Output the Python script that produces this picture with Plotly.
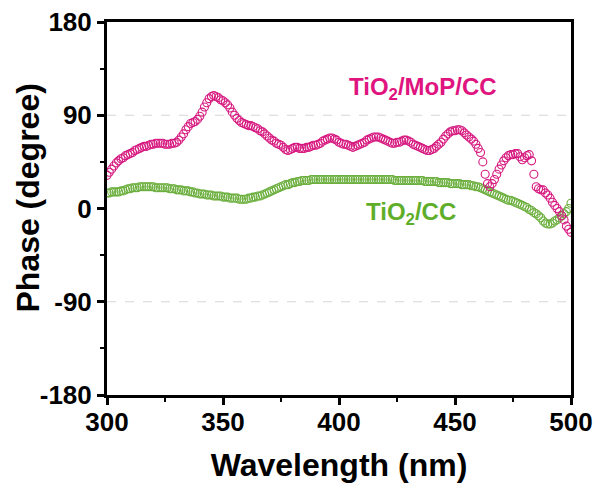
import plotly.graph_objects as go

# Wavelength grid (nm)
wavelength = list(range(300, 501))

# Phase (degree) for TiO2/MoP/CC, one value per nm from 300 to 500
phase_mop = [
    32, 35, 38, 41, 44, 46, 48, 49, 51, 52,          # 300-309
    53, 54, 56, 57, 58, 59, 60, 60, 61, 62,          # 310-319
    62, 63, 63, 63, 63, 62, 62, 62, 63, 63,          # 320-329
    64, 66, 69, 72, 76, 79, 82, 83, 84, 86,          # 330-339
    89, 93, 98, 102, 106, 108, 109, 108, 107, 105,   # 340-349
    104, 102, 100, 97, 93, 90, 87, 85, 83, 82,       # 350-359
    81, 80, 80, 79, 78, 77, 75, 74, 72, 70,          # 360-369
    68, 66, 65, 63, 62, 61, 59, 57, 56, 57,          # 370-379
    58, 59, 59, 58, 58, 58, 59, 59, 60, 61,          # 380-389
    61, 62, 63, 65, 66, 67, 68, 68, 67, 66,          # 390-399
    64, 63, 62, 62, 61, 60, 59, 60, 61, 62,          # 400-409
    63, 64, 66, 67, 68, 69, 69, 69, 68, 67,          # 410-419
    66, 65, 64, 63, 63, 64, 64, 65, 66, 66,          # 420-429
    65, 64, 62, 61, 60, 59, 58, 57, 56, 56,          # 430-439
    57, 58, 60, 62, 64, 67, 70, 72, 74, 75,          # 440-449
    75, 76, 76, 75, 73, 71, 69, 67, 65, 62,          # 450-459
    58, 54, 45, 33, 24, 21, 24, 28, 33, 38,          # 460-469
    42, 46, 49, 51, 52, 52, 53, 53, 50, 47,          # 470-479
    49, 51, 52, 46, 33, 21, 19, 18, 18, 15,          # 480-489
    13, 10, 6, 3, 0, -3, -7, -11, -17, -20,          # 490-499
    -23,                                             # 500
]

# Phase (degree) for TiO2/CC, one value per nm from 300 to 500
phase_cc = [
    15, 15, 16, 16, 16, 16, 17, 17, 18, 19,          # 300-309
    19, 20, 20, 20, 21, 21, 21, 21, 21, 21,          # 310-319
    21, 20, 20, 20, 20, 20, 20, 19, 19, 19,          # 320-329
    18, 18, 18, 17, 17, 17, 16, 16, 15, 15,          # 330-339
    14, 14, 14, 13, 13, 13, 12, 12, 12, 12,          # 340-349
    11, 11, 11, 10, 10, 10, 10, 9, 9, 9,             # 350-359
    9, 10, 10, 11, 11, 12, 12, 13, 14, 15,           # 360-369
    16, 17, 18, 19, 20, 21, 22, 23, 23, 24,          # 370-379
    25, 25, 26, 26, 27, 27, 27, 27, 28, 28,          # 380-389
    28, 28, 28, 28, 28, 28, 28, 28, 28, 28,          # 390-399
    28, 28, 28, 28, 28, 28, 28, 28, 28, 28,          # 400-409
    28, 28, 28, 28, 28, 28, 28, 28, 28, 28,          # 410-419
    28, 28, 28, 28, 27, 27, 27, 27, 27, 27,          # 420-429
    27, 27, 27, 27, 27, 27, 27, 26, 26, 26,          # 430-439
    26, 26, 26, 25, 25, 25, 25, 25, 24, 24,          # 440-449
    24, 24, 24, 23, 23, 23, 23, 22, 22, 21,          # 450-459
    21, 20, 19, 18, 17, 16, 15, 14, 13, 12,          # 460-469
    11, 10, 9, 8, 8, 7, 6, 5, 4, 3,                  # 470-479
    2, 1, -1, -2, -4, -5, -7, -9, -12, -14,          # 480-489
    -15, -15, -14, -12, -11, -9, -7, -5, -3, 0,      # 490-499
    5,                                               # 500
]

x_ticks = [300, 350, 400, 450, 500]
y_ticks = [-180, -90, 0, 90, 180]
y_tick_text = ["-180", "-90", "0", "90", "180"]
grid_levels = [-90, 90]

PINK = "#d6187f"
GREEN = "#6aae3c"
FONT = "Liberation Sans"

fig = go.Figure()

fig.add_trace(go.Scatter(
    x=wavelength, y=phase_cc, mode="markers", name="TiO2/CC",
    marker=dict(symbol="circle-open", size=8, color=GREEN, line=dict(width=1.1, color=GREEN)),
))
fig.add_trace(go.Scatter(
    x=wavelength, y=phase_mop, mode="markers", name="TiO2/MoP/CC",
    marker=dict(symbol="circle-open", size=8, color=PINK, line=dict(width=1.1, color=PINK)),
))

# dashed reference lines at +/-90 degrees
for g in grid_levels:
    fig.add_shape(type="line", xref="paper", x0=0, x1=1, yref="y", y0=g, y1=g,
                  line=dict(color="#d6d6d6", width=1, dash="dash"), layer="below")

fig.add_annotation(x=436, y=116, xref="x", yref="y", showarrow=False,
                   text="TiO<sub>2</sub>/MoP/CC",
                   font=dict(family=FONT, size=24, color="#e0147f", weight="bold"))
fig.add_annotation(x=431, y=-5, xref="x", yref="y", showarrow=False,
                   text="TiO<sub>2</sub>/CC",
                   font=dict(family=FONT, size=24, color="#5fae2a", weight="bold"))

# y-axis title, placed by hand to sit close to the tick labels
fig.add_annotation(x=-0.17, y=0.527, xref="paper", yref="paper", showarrow=False,
                   text="Phase (degree)", textangle=-90,
                   xanchor="center", yanchor="middle",
                   font=dict(family=FONT, size=32, color="black", weight="bold"))

axis_common = dict(
    showline=True, linecolor="black", linewidth=3, mirror=True,
    ticks="outside", ticklen=7, tickwidth=2.5, tickcolor="black",
    showgrid=False, zeroline=False, automargin=False,
    tickfont=dict(family=FONT, size=26, color="black", weight="bold"),
)

fig.update_xaxes(
    range=[300, 500], tickvals=x_ticks, ticklabelstandoff=-5,
    minor=dict(dtick=25, tick0=300, ticks="outside", ticklen=4, tickwidth=2, tickcolor="black"),
    title=dict(text="Wavelength (nm)", standoff=18,
               font=dict(family=FONT, size=32, color="black", weight="bold")),
    **axis_common,
)
fig.update_yaxes(
    range=[-180, 180], tickvals=y_ticks, ticktext=y_tick_text,
    minor=dict(dtick=45, tick0=-180, ticks="outside", ticklen=4, tickwidth=2, tickcolor="black"),
    **axis_common,
)

fig.update_layout(
    width=600, height=488,
    margin=dict(l=107, r=29, t=22, b=93, autoexpand=False),
    plot_bgcolor="white", paper_bgcolor="white",
    showlegend=False,
)

fig.write_html("out.html")
